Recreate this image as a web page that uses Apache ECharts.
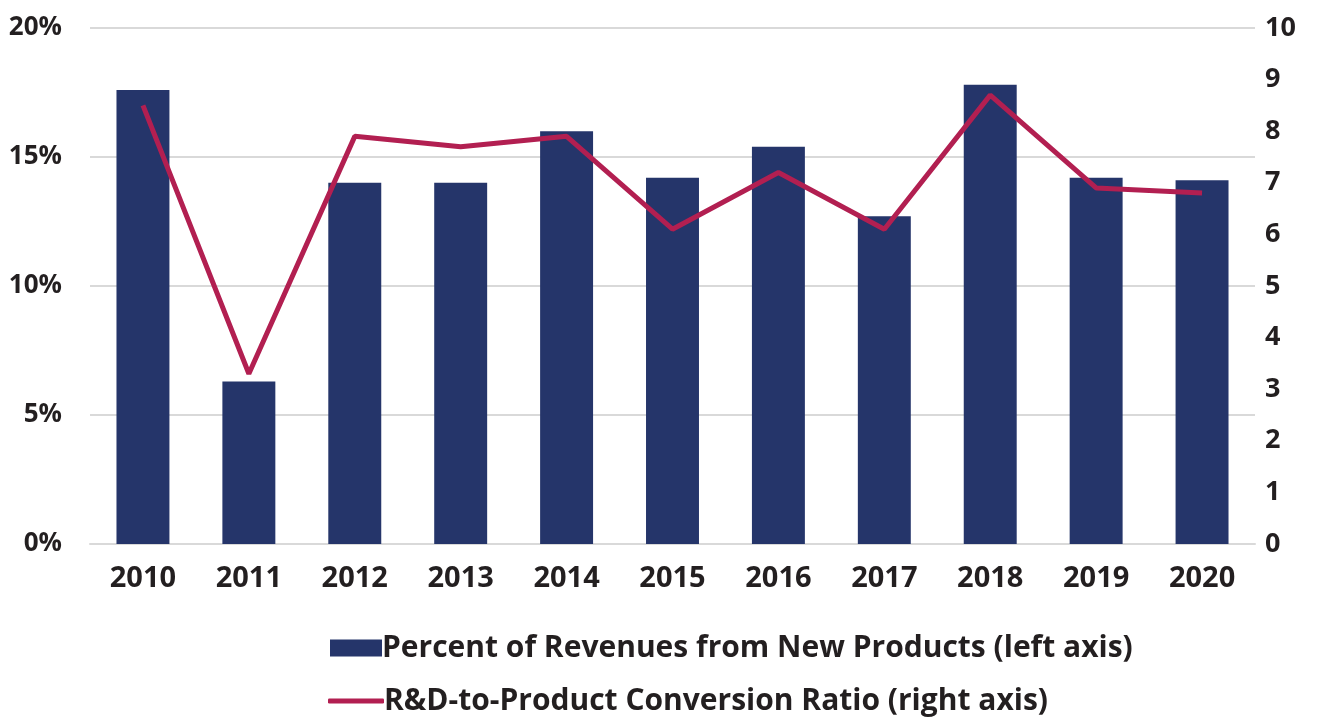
<!DOCTYPE html>
<html>
<head>
    <meta charset="UTF-8">
    <title>New Products and R&amp;D Conversion</title>
    <script src="https://cdn.jsdelivr.net/npm/echarts@6.0.0/dist/echarts.min.js"></script>
    <style>
        html, body { margin: 0; padding: 0; background: #fff; }
        #chart { width: 1323px; height: 717px; }
    </style>
</head>
<body>
    <div id="chart"></div>
    <script>
        const years = ['2010', '2011', '2012', '2013', '2014', '2015', '2016', '2017', '2018', '2019', '2020'];
        // percent of revenues from new products (left axis, %)
        const revenueShare = [17.6, 6.3, 14.0, 14.0, 16.0, 14.2, 15.4, 12.7, 17.8, 14.2, 14.1];
        // R&D-to-product conversion ratio (right axis)
        const conversionRatio = [8.5, 3.3, 7.9, 7.7, 7.9, 6.1, 7.2, 6.1, 8.7, 6.9, 6.8];

        const barName = 'Percent of Revenues from New Products (left axis)';
        const lineName = 'R&D-to-Product Conversion Ratio (right axis)';
        const fontFamily = '"Open Sans", Lato, sans-serif';
        const textColor = '#231f20';
        const barColor = '#25356a';
        const lineColor = '#b21f51';

        const chart = echarts.init(document.getElementById('chart'));

        const legendText = { fontSize: 30, fontWeight: 'bold', color: textColor, padding: [0, 0, 0, -5] };

        chart.setOption({
            animation: false,
            textStyle: { fontFamily: fontFamily },
            grid: { left: 90, right: 68, top: 28, bottom: 173 },
            legend: [
                {
                    left: 325,
                    top: 628,
                    itemWidth: 52,
                    itemHeight: 17,
                    textStyle: legendText,
                    data: [{ name: barName, icon: 'rect' }]
                },
                {
                    left: 323,
                    top: 681,
                    itemWidth: 56,
                    itemHeight: 5,
                    textStyle: legendText,
                    data: [{ name: lineName, icon: 'roundRect' }]
                }
            ],
            xAxis: {
                type: 'category',
                data: years,
                axisLine: { show: true, lineStyle: { color: '#d9d9d9', width: 2 } },
                axisTick: { show: false },
                axisLabel: { color: textColor, fontSize: 29, fontWeight: 'bold', margin: 20 }
            },
            yAxis: [
                {
                    type: 'value',
                    min: 0,
                    max: 20,
                    interval: 5,
                    axisLine: { show: false },
                    axisTick: { show: false },
                    axisLabel: { color: textColor, fontSize: 26, fontWeight: 'bold', margin: 28, formatter: '{value}%' },
                    splitLine: { lineStyle: { color: '#d9d9d9', width: 2 } }
                },
                {
                    type: 'value',
                    min: 0,
                    max: 10,
                    interval: 1,
                    axisLine: { show: false },
                    axisTick: { show: false },
                    axisLabel: { color: textColor, fontSize: 27, fontWeight: 'bold', margin: 10 },
                    splitLine: { show: false }
                }
            ],
            series: [
                {
                    name: barName,
                    type: 'bar',
                    data: revenueShare,
                    barWidth: '50%',
                    itemStyle: { color: barColor }
                },
                {
                    name: lineName,
                    type: 'line',
                    yAxisIndex: 1,
                    data: conversionRatio,
                    symbol: 'none',
                    lineStyle: { color: lineColor, width: 5 },
                    itemStyle: { color: lineColor }
                }
            ]
        });
    </script>
</body>
</html>
